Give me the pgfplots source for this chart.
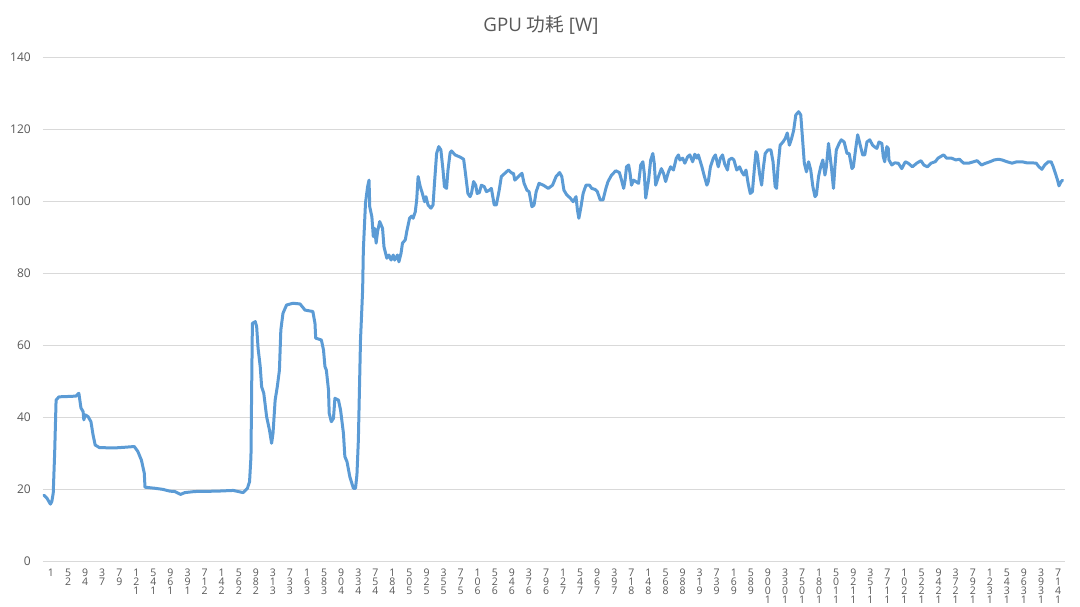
\documentclass[border=0pt]{standalone}
\usepackage{fontspec}
\setmainfont{Open Sans}
\newfontfamily\cjk{Noto Sans CJK SC}
\usepackage{pgfplots}
\pgfplotsset{compat=1.18}
\definecolor{txt}{HTML}{595959}
\definecolor{grd}{HTML}{D9D9D9}
\definecolor{ser}{HTML}{5B9BD5}
% stacked digits, as Excel draws vertical text
\newcommand\vs[1]{\vbox{\baselineskip=9bp\lineskiplimit=-50bp\lineskip=0pt\halign{\hfil##\hfil\cr#1\crcr}}}
\begin{document}
\begin{tikzpicture}
\path[use as bounding box] (-43bp,-46bp) rectangle (1037bp,561bp);
\begin{axis}[
    scale only axis,
    width=1022bp, height=504bp,
    xmin=-0.4, xmax=1436.5,
    ymin=0, ymax=140,
    ytick={0,20,...,140},
    xtick={1,25,...,1417},
    xticklabels={{\vs{1}},{\vs{5\cr2}},{\vs{9\cr4}},{\vs{3\cr7}},{\vs{7\cr9}},
      {\vs{1\cr2\cr1}},{\vs{5\cr4\cr1}},{\vs{9\cr6\cr1}},{\vs{3\cr9\cr1}},{\vs{7\cr1\cr2}},
      {\vs{1\cr4\cr2}},{\vs{5\cr6\cr2}},{\vs{9\cr8\cr2}},{\vs{3\cr1\cr3}},{\vs{7\cr3\cr3}},
      {\vs{1\cr6\cr3}},{\vs{5\cr8\cr3}},{\vs{9\cr0\cr4}},{\vs{3\cr3\cr4}},{\vs{7\cr5\cr4}},
      {\vs{1\cr8\cr4}},{\vs{5\cr0\cr5}},{\vs{9\cr2\cr5}},{\vs{3\cr5\cr5}},{\vs{7\cr7\cr5}},
      {\vs{1\cr0\cr6}},{\vs{5\cr2\cr6}},{\vs{9\cr4\cr6}},{\vs{3\cr7\cr6}},{\vs{7\cr9\cr6}},
      {\vs{1\cr2\cr7}},{\vs{5\cr4\cr7}},{\vs{9\cr6\cr7}},{\vs{3\cr9\cr7}},{\vs{7\cr1\cr8}},
      {\vs{1\cr4\cr8}},{\vs{5\cr6\cr8}},{\vs{9\cr8\cr8}},{\vs{3\cr1\cr9}},{\vs{7\cr3\cr9}},
      {\vs{1\cr6\cr9}},{\vs{5\cr8\cr9}},{\vs{9\cr0\cr0\cr1}},{\vs{3\cr3\cr0\cr1}},{\vs{7\cr5\cr0\cr1}},
      {\vs{1\cr8\cr0\cr1}},{\vs{5\cr0\cr1\cr1}},{\vs{9\cr2\cr1\cr1}},{\vs{3\cr5\cr1\cr1}},{\vs{7\cr7\cr1\cr1}},
      {\vs{1\cr0\cr2\cr1}},{\vs{5\cr2\cr2\cr1}},{\vs{9\cr4\cr2\cr1}},{\vs{3\cr7\cr2\cr1}},{\vs{7\cr9\cr2\cr1}},
      {\vs{1\cr2\cr3\cr1}},{\vs{5\cr4\cr3\cr1}},{\vs{9\cr6\cr3\cr1}},{\vs{3\cr9\cr3\cr1}},{\vs{7\cr1\cr4\cr1}}},
    major tick length=0pt,
    axis line style={draw=none},
    ymajorgrids,
    grid style={grd, line width=0.75bp},
    tick label style={font=\fontsize{12bp}{14bp}\selectfont, text=txt},
    yticklabel style={anchor=east, inner sep=0pt, xshift=-12bp},
    xticklabel style={anchor=north, inner sep=0pt, yshift=-8bp, xshift=7bp,
      font=\fontsize{10.5bp}{12bp}\selectfont},
    /pgf/number format/assume math mode=true,
    clip=false,
]
\addplot[ser, line width=3bp, line join=round, line cap=round] coordinates {
(1,18.3) (5,17.5) (10,15.8) (12,16.5) (14,18.9) (16,30) (18,44.7) (22,45.6) (35,45.7) (46,45.8) (50,46.6)
(53,42.5) (56,41.5) (57,39.2) (59,40.6) (63,40.1) (67,38.7) (70,35) (73,32.2) (79,31.5) (100,31.4)
(115,31.6) (128,31.8) (133,30.4) (138,28) (142,24.4) (143,20.5) (157,20.2) (168,19.9) (178,19.4)
(185,19.3) (193,18.5) (199,19) (213,19.3) (244,19.4) (267,19.6) (281,19) (287,20.2) (290,22)
(292,29) (293,48.4) (294,66) (298,66.5) (300,65.1) (302,59.1) (305,54) (307,48.4) (310,46.6)
(314,40.1) (318,36.4) (321,32.7) (323,35.5) (326,44.7) (329,48.4) (332,53) (334,64.2) (337,68.8)
(342,71.1) (351,71.6) (361,71.4) (368,69.7) (379,69.3) (382,66) (383,61.9) (391,61.4) (394,58.6)
(396,54) (398,53) (401,47.5) (402,41) (405,38.7) (408,39.6) (410,45.2) (415,44.7) (418,41.9)
(422,35.5) (424,29) (427,27.6) (431,23.4) (436,20.2) (439,20.2) (441,24) (443,33.6) (444,42.9)
(445,52.1) (446,61.4) (448,70.6) (449,75.3) (450,86.4) (453,99.4) (456,104) (458,105.8) (459,98.4)
(462,95.6) (464,90.1) (466,92.4) (468,88.3) (470,91.5) (473,94.3) (477,92.4) (479,87.3) (483,84.1)
(486,85) (489,83.6) (492,85) (494,83.6) (498,85) (500,83.1) (503,85.5) (505,88.3) (509,89.2)
(511,91.5) (515,95.2) (518,95.8) (520,95.2) (523,97) (525,100.3) (527,106.8) (530,104) (533,102.1)
(536,99.8) (538,101.2) (541,98.9) (545,98) (548,98.9) (550,104.9) (553,113.2) (556,115.1) (559,114.2)
(562,108.6) (564,104) (567,103.5) (569,108.6) (572,113.4) (574,113.9) (579,112.8) (586,112.2)
(591,111.6) (593,108.6) (597,102.1) (600,101.2) (602,102.1) (605,105.4) (608,104.4) (610,102.1)
(613,102.3) (616,104.4) (620,104) (623,102.6) (627,103) (630,103.5) (634,98.9) (637,98.9) (641,103)
(644,106.8) (649,107.7) (654,108.6) (659,107.7) (661,107.7) (663,105.8) (668,106.8) (673,107.7)
(676,104.9) (680,103) (683,102.6) (687,98.4) (690,98.9) (693,102.6) (697,104.9) (703,104.4)
(710,103.5) (716,104.4) (721,106.8) (726,107.9) (729,106.8) (732,103) (736,101.7) (741,100.8)
(745,99.8) (749,101.2) (751,97.5) (753,95.2) (756,98.4) (759,102.1) (763,104.4) (768,104.4)
(771,103.5) (776,103.2) (779,102.6) (783,100.3) (787,100.3) (791,103.5) (794,105.4) (799,107.2)
(805,108.4) (810,107.9) (813,105.8) (816,103.5) (818,105.8) (820,109.5) (823,110) (825,107.7)
(827,104.4) (830,105.8) (833,105.4) (837,104.9) (840,110) (843,110.9) (845,107.7) (847,100.8)
(851,105.8) (854,111.4) (857,113.2) (859,110.5) (861,104.4) (865,106.8) (869,109) (872,107.7)
(875,105.4) (879,108.1) (882,109.5) (886,108.6) (890,111.9) (893,112.8) (895,111.4) (899,111.9)
(902,110.5) (906,112.3) (909,112.8) (913,110.9) (916,113) (919,111.9) (921,112.8) (926,109.5)
(929,107.2) (933,104.4) (935,105.4) (938,109.5) (942,111.9) (945,112.8) (949,109.5) (952,111.9)
(955,112.8) (958,110.3) (962,108.6) (964,111.4) (968,111.9) (971,111.4) (975,108.6) (979,109.5)
(982,108.1) (985,107.2) (988,108.6) (991,104.9) (994,102.1) (997,102.6) (1000,109.5) (1002,113.7)
(1004,112.8) (1007,107.7) (1010,104.4) (1012,108.6) (1015,113.2) (1019,114.2) (1023,114.2)
(1026,110.9) (1029,104) (1031,103.5) (1033,109.5) (1036,115.5) (1040,116.4) (1043,117.3)
(1046,118.9) (1049,115.5) (1052,117.3) (1055,119.6) (1058,123.9) (1062,124.8) (1065,123.9)
(1068,115.9) (1070,110.5) (1073,108.1) (1076,110.9) (1079,108.6) (1082,104) (1085,101.2)
(1087,101.7) (1090,106.8) (1093,109.5) (1096,111.4) (1099,107.2) (1101,109.5) (1104,116)
(1106,112.8) (1108,109.5) (1111,103.5) (1113,109.5) (1115,114.2) (1119,116) (1122,117) (1126,116.4)
(1130,113.2) (1133,113.2) (1137,109) (1139,109.5) (1142,114.2) (1145,118.4) (1148,116) (1152,112.8)
(1155,112.8) (1158,116.4) (1162,117) (1166,115.5) (1169,115) (1172,114.6) (1175,116.4) (1179,116)
(1181,112.3) (1183,110.9) (1186,115.1) (1188,114.6) (1189,111.4) (1193,110) (1197,110.6) (1202,110.5)
(1207,109) (1212,110.9) (1216,110.5) (1222,109.5) (1228,110.5) (1234,111.2) (1238,110) (1243,109.5)
(1248,110.5) (1254,110.9) (1258,111.9) (1263,112.5) (1266,112.8) (1270,111.9) (1277,111.9)
(1283,111.4) (1288,111.6) (1294,110.5) (1301,110.5) (1308,110.9) (1313,111.2) (1319,110) (1325,110.5)
(1331,110.9) (1337,111.4) (1343,111.6) (1348,111.4) (1355,110.9) (1362,110.5) (1369,110.9)
(1376,110.9) (1383,110.6) (1390,110.6) (1396,110.5) (1400,109.5) (1404,108.8) (1408,110) (1413,110.9)
(1417,110.9) (1420,109.5) (1423,107.7) (1426,105.8) (1428,104.2) (1431,105.4) (1433,105.8)
};
\end{axis}
\node[text=txt, font=\fontsize{18.7bp}{22bp}\selectfont, anchor=center] at (498bp,536bp) {GPU {\cjk 功耗} [W]};
\end{tikzpicture}
\end{document}
